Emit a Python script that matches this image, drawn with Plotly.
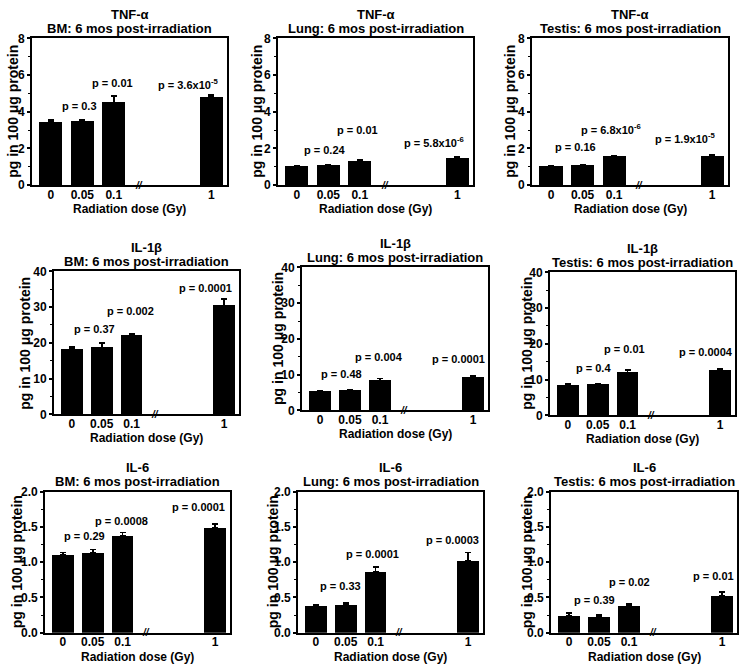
import plotly.graph_objects as go

# ---------------- data ----------------
doses = ["0", "0.05", "0.1", "1"]
cytokines = ["TNF-α", "IL-1β", "IL-6"]
tissues = ["BM", "Lung", "Testis"]

tnf_bm = [3.45, 3.5, 4.5, 4.8]
tnf_bm_err = [0.1, 0.08, 0.35, 0.12]
tnf_lung = [1.02, 1.08, 1.32, 1.48]
tnf_lung_err = [0.03, 0.04, 0.06, 0.06]
tnf_testis = [1.02, 1.08, 1.58, 1.6]
tnf_testis_err = [0.03, 0.03, 0.03, 0.05]

il1b_bm = [18.2, 18.7, 22.0, 30.5]
il1b_bm_err = [0.7, 1.3, 0.4, 1.8]
il1b_lung = [5.3, 5.5, 8.3, 9.3]
il1b_lung_err = [0.3, 0.3, 0.6, 0.4]
il1b_testis = [8.5, 8.7, 12.0, 12.5]
il1b_testis_err = [0.4, 0.2, 0.6, 0.5]

il6_bm = [1.1, 1.13, 1.38, 1.49]
il6_bm_err = [0.04, 0.05, 0.04, 0.05]
il6_lung = [0.38, 0.40, 0.86, 1.02]
il6_lung_err = [0.02, 0.02, 0.07, 0.12]
il6_testis = [0.24, 0.22, 0.38, 0.52]
il6_testis_err = [0.04, 0.03, 0.03, 0.06]

p_tnf_bm = ["p = 0.3", "p = 0.01", "p = 3.6x10<sup>-5</sup>"]
p_tnf_lung = ["p = 0.24", "p = 0.01", "p = 5.8x10<sup>-6</sup>"]
p_tnf_testis = ["p = 0.16", "p = 6.8x10<sup>-6</sup>", "p = 1.9x10<sup>-5</sup>"]
p_il1b_bm = ["p = 0.37", "p = 0.002", "p = 0.0001"]
p_il1b_lung = ["p = 0.48", "p = 0.004", "p = 0.0001"]
p_il1b_testis = ["p = 0.4", "p = 0.01", "p = 0.0004"]
p_il6_bm = ["p = 0.29", "p = 0.0008", "p = 0.0001"]
p_il6_lung = ["p = 0.33", "p = 0.0001", "p = 0.0003"]
p_il6_testis = ["p = 0.39", "p = 0.02", "p = 0.01"]

y_max = [8, 40, 2.0]
y_major = [2, 10, 0.5]

x_title = "Radiation dose (Gy)"
y_title = "pg in 100 μg protein"

# ---------------- layout helpers (positions / styles) ----------------
bar_pos = [0, 1, 2, 5.1]
break_pos = 2.8
x_range = [-0.6, 5.6]

panels = [
    (tnf_bm, tnf_bm_err, p_tnf_bm, 0, 0),
    (tnf_lung, tnf_lung_err, p_tnf_lung, 0, 1),
    (tnf_testis, tnf_testis_err, p_tnf_testis, 0, 2),
    (il1b_bm, il1b_bm_err, p_il1b_bm, 1, 0),
    (il1b_lung, il1b_lung_err, p_il1b_lung, 1, 1),
    (il1b_testis, il1b_testis_err, p_il1b_testis, 1, 2),
    (il6_bm, il6_bm_err, p_il6_bm, 2, 0),
    (il6_lung, il6_lung_err, p_il6_lung, 2, 1),
    (il6_testis, il6_testis_err, p_il6_testis, 2, 2),
]

# pixel boxes: left, right, top, bottom
boxes = [
    (32, 227, 32, 182), (278, 473, 32, 182), (532, 728, 32, 182),
    (54, 239, 270, 416), (302, 488, 266, 412), (550, 735, 271, 417),
    (45, 230, 495, 639), (298, 483, 495, 639), (551, 737, 495, 639),
]
# distance (px) of the y-title centre left of the axis
ytitle_shift = [19, 21, 22, 29, 24, 23, 28, 25, 24]

# p-label positions (x in bar units, y in data units)
p_label_x = [
    [0.92, 1.97, 4.36], [0.88, 1.94, 4.35], [0.77, 1.91, 4.25],
    [0.76, 1.96, 4.48], [0.70, 1.96, 4.63], [0.85, 1.91, 4.62],
    [0.71, 1.97, 4.54], [0.81, 1.89, 4.58], [0.85, 2.0, 4.82],
]
p_label_y = [
    [4.29, 5.59, 5.5], [1.93, 2.98, 2.36], [2.09, 3.05, 2.55],
    [24.0, 28.8, 35.4], [10.2, 14.9, 14.3], [13.3, 18.5, 17.8],
    [1.37, 1.58, 1.78], [0.66, 1.11, 1.32], [0.46, 0.72, 0.80],
]

W, H = 741, 672
FONT = "Liberation Sans, Arial, sans-serif"


def bfont(size):
    return dict(family=FONT, size=size, weight="bold", color="black")


fig = go.Figure()
layout = dict(
    width=W, height=H,
    margin=dict(l=0, r=0, t=0, b=0),
    paper_bgcolor="white", plot_bgcolor="white",
    showlegend=False,
    bargap=0,
    font=dict(family=FONT, color="black"),
)
annotations = []

for k, (vals, errs, plabels, row, col) in enumerate(panels):
    idx = k + 1
    xa = "x" if idx == 1 else f"x{idx}"
    ya = "y" if idx == 1 else f"y{idx}"
    l, r, t, b = boxes[k]

    fig.add_trace(go.Bar(
        x=bar_pos, y=vals, width=0.73,
        marker=dict(color="black", line=dict(width=0)),
        error_y=dict(type="data", array=errs, arrayminus=[0] * len(errs),
                     symmetric=False, color="black", thickness=1.6, width=3),
        xaxis=xa, yaxis=ya, hoverinfo="skip",
    ))

    axis_common = dict(showline=True, linecolor="black", linewidth=1.8,
                       mirror=True, showgrid=False, zeroline=False)
    layout[f"xaxis{idx}" if idx > 1 else "xaxis"] = dict(
        domain=[l / W, r / W], range=x_range, anchor=ya,
        tickmode="array", tickvals=bar_pos, ticktext=doses,
        ticks="", ticklabelstandoff=-3, tickfont=bfont(12),
        **axis_common,
    )
    layout[f"yaxis{idx}" if idx > 1 else "yaxis"] = dict(
        domain=[1 - b / H, 1 - t / H], range=[0, y_max[row]], anchor=xa,
        tick0=0, dtick=y_major[row],
        tickformat=".1f" if row == 2 else "d",
        ticks="outside", ticklen=3, tickwidth=1.5, tickcolor="black",
        minor=dict(dtick=y_major[row] / 2, ticks="outside", ticklen=2,
                   tickwidth=1, tickcolor="black"),
        tickfont=bfont(12),
        **axis_common,
    )

    # panel titles
    annotations.append(dict(
        text=cytokines[row], xref=f"{xa} domain", yref=f"{ya} domain",
        x=0.5, y=1, yshift=24, showarrow=False, xanchor="center", yanchor="middle",
        font=bfont(13)))
    annotations.append(dict(
        text=f"{tissues[col]}: 6 mos post-irradiation",
        xref=f"{xa} domain", yref=f"{ya} domain",
        x=0.5, y=1, yshift=10, showarrow=False, xanchor="center", yanchor="middle",
        font=bfont(13)))

    # axis titles
    annotations.append(dict(
        text=x_title, xref=f"{xa} domain", yref=f"{ya} domain",
        x=0.5, y=0, yshift=-24, showarrow=False, xanchor="center", yanchor="middle",
        font=bfont(12)))
    annotations.append(dict(
        text=y_title, xref=f"{xa} domain", yref=f"{ya} domain",
        x=0, y=0.5, xshift=-ytitle_shift[k], textangle=-90, showarrow=False,
        xanchor="center", yanchor="middle", font=bfont(14)))

    # p-values
    for j, txt in enumerate(plabels):
        annotations.append(dict(
            text=txt, xref=xa, yref=ya, x=p_label_x[k][j], y=p_label_y[k][j],
            showarrow=False, xanchor="center", yanchor="middle",
            font=bfont(11)))

    # axis break mark
    annotations.append(dict(
        text="//", xref=xa, yref=f"{ya} domain", x=break_pos, y=0,
        showarrow=False, xanchor="center", yanchor="middle",
        font=dict(family=FONT, size=10, weight="bold", style="italic", color="black")))

layout["annotations"] = annotations
fig.update_layout(**layout)
fig.write_html("out.html", config={"displayModeBar": False},
               post_script="document.body.style.margin='0px';")
